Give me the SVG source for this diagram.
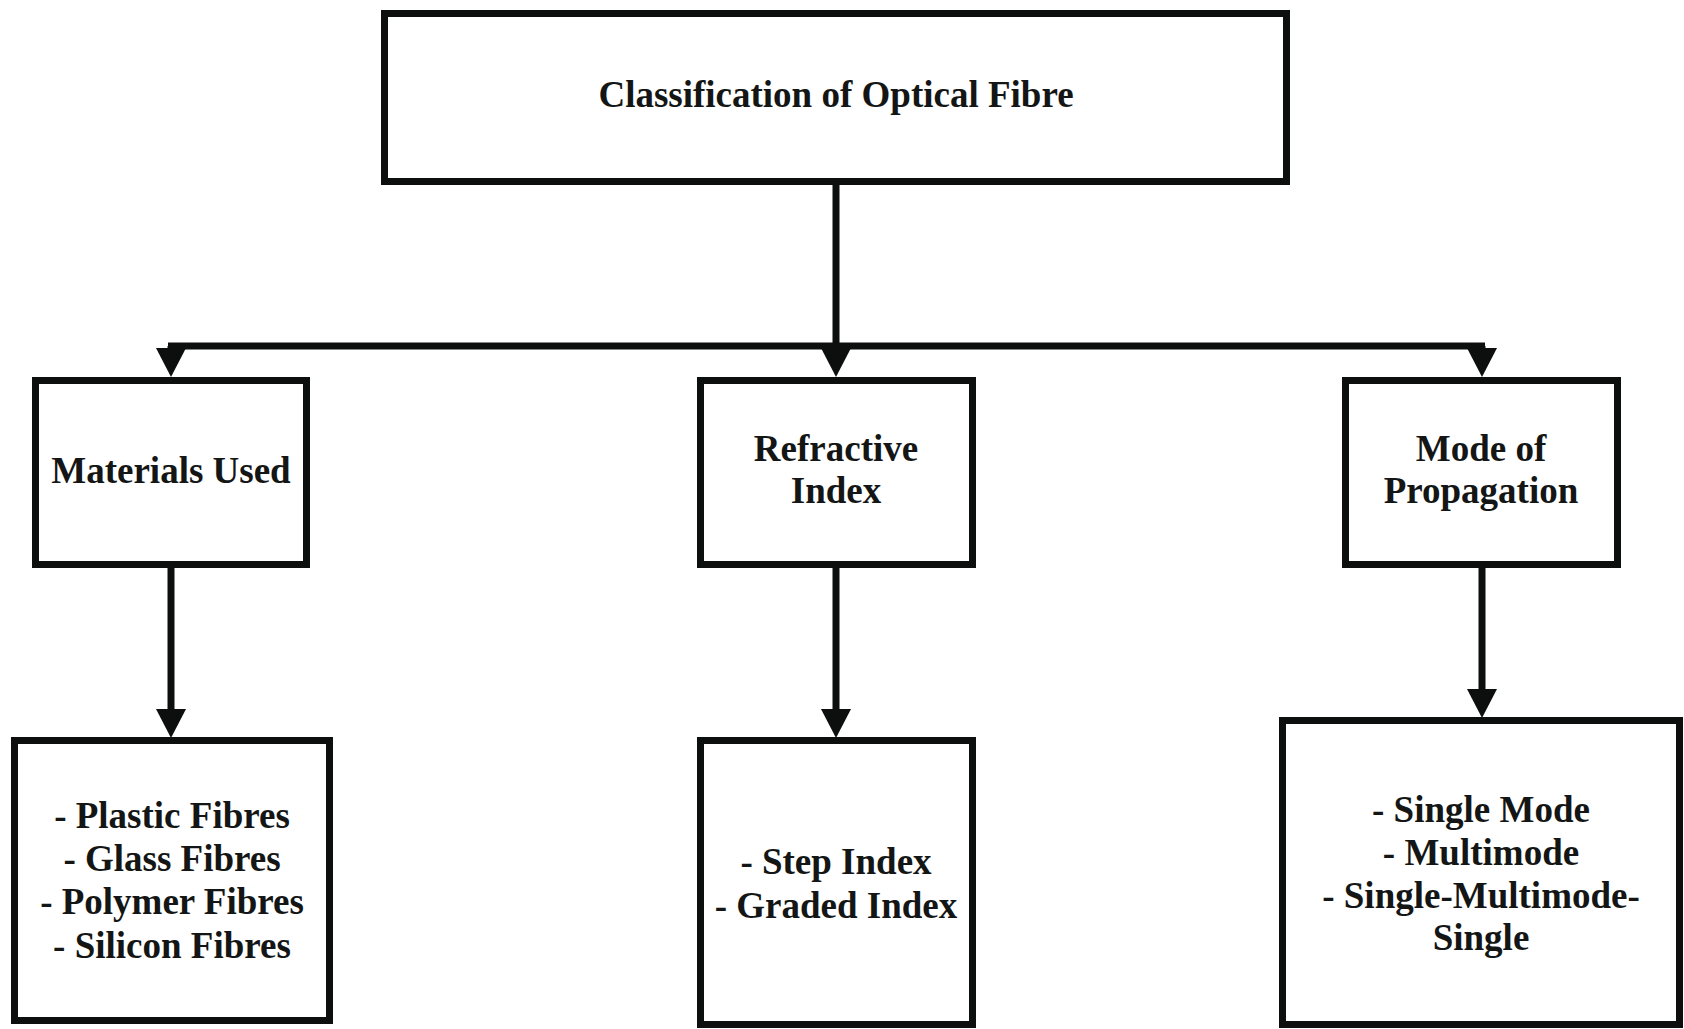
<svg xmlns="http://www.w3.org/2000/svg" width="1684" height="1029" viewBox="0 0 1684 1029">
<style>
.box{fill:#fff;stroke:#0d0f0f;stroke-width:7}
.t{font-family:"Liberation Serif","Times New Roman",serif;font-weight:bold;font-size:37px;fill:#141616;text-anchor:middle}
.ln{stroke:#0d0f0f;stroke-width:7;fill:none}
.ah{fill:#0d0f0f}
</style>
<defs>
<path id="arrow" class="ah" d="M-15,-29 L15,-29 L0,0 Z"/>
</defs>
<rect width="1684" height="1029" fill="#fff"/>
<g id="connectors">
<line class="ln" x1="836" y1="182" x2="836" y2="350"/>
<line class="ln" x1="168" y1="346" x2="1485" y2="346"/>
<line class="ln" x1="171" y1="346" x2="171" y2="352"/>
<line class="ln" x1="836" y1="346" x2="836" y2="352"/>
<line class="ln" x1="1482" y1="346" x2="1482" y2="352"/>
<use href="#arrow" x="171" y="377"/>
<use href="#arrow" x="836" y="377"/>
<use href="#arrow" x="1482" y="377"/>
<line class="ln" x1="171" y1="565" x2="171" y2="712"/>
<line class="ln" x1="836" y1="565" x2="836" y2="712"/>
<line class="ln" x1="1482" y1="565" x2="1482" y2="692"/>
<use href="#arrow" x="171" y="738"/>
<use href="#arrow" x="836" y="738"/>
<use href="#arrow" x="1482" y="718"/>
</g>
<g id="root">
<rect class="box" x="384.5" y="13.5" width="902" height="168"/>
<text class="t" x="836" y="107">Classification of Optical Fibre</text>
</g>
<g id="materials">
<rect class="box" x="35.5" y="380.5" width="271" height="184"/>
<text class="t" x="171" y="483">Materials Used</text>
</g>
<g id="refractive">
<rect class="box" x="700.5" y="380.5" width="272" height="184"/>
<text class="t" x="836" y="461">Refractive</text>
<text class="t" x="836" y="503">Index</text>
</g>
<g id="mode">
<rect class="box" x="1345.5" y="380.5" width="272" height="184"/>
<text class="t" x="1481" y="461">Mode of</text>
<text class="t" x="1481" y="503">Propagation</text>
</g>
<g id="materials-list">
<rect class="box" x="14.5" y="740.5" width="315" height="280"/>
<text class="t" x="172" y="828">- Plastic Fibres</text>
<text class="t" x="172" y="871">- Glass Fibres</text>
<text class="t" x="172" y="914">- Polymer Fibres</text>
<text class="t" x="172" y="958">- Silicon Fibres</text>
</g>
<g id="refractive-list">
<rect class="box" x="700.5" y="740.5" width="272" height="284"/>
<text class="t" x="836" y="874">- Step Index</text>
<text class="t" x="836" y="918">- Graded Index</text>
</g>
<g id="mode-list">
<rect class="box" x="1282.5" y="720.5" width="397" height="304"/>
<text class="t" x="1481" y="822">- Single Mode</text>
<text class="t" x="1481" y="865">- Multimode</text>
<text class="t" x="1481" y="908">- Single-Multimode-</text>
<text class="t" x="1481" y="950">Single</text>
</g>
</svg>
